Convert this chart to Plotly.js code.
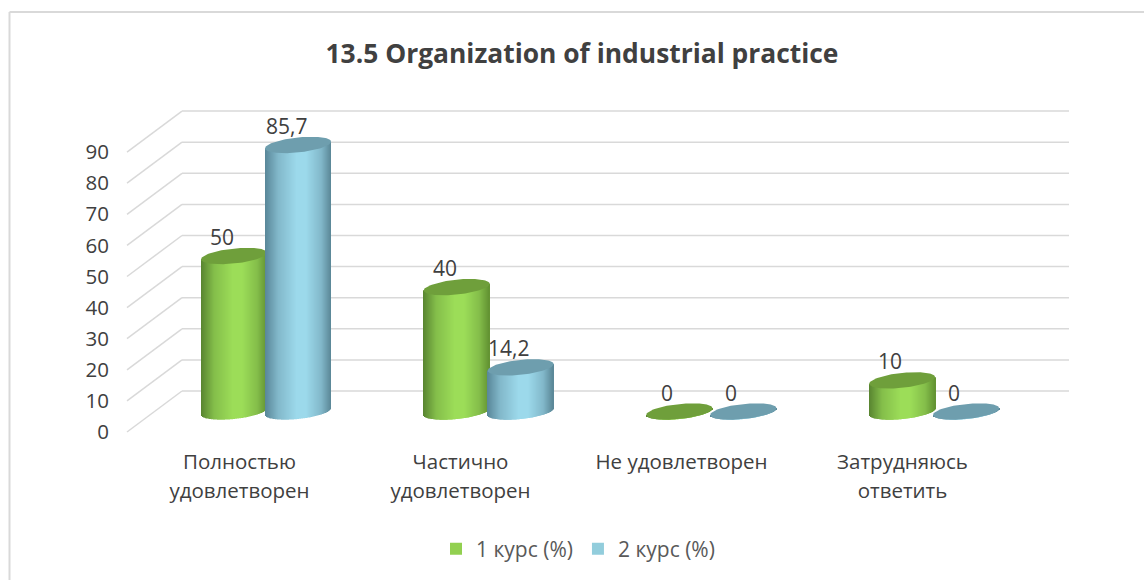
<!DOCTYPE html>
<html><head><meta charset="utf-8">
<script src="https://cdn.plot.ly/plotly-3.0.1.min.js"></script>
<style>html,body{margin:0;padding:0;background:#fff}#c{width:1144px;height:580px}</style></head>
<body><div id="c"></div>
<script>
var categories = ["Полностью<br>удовлетворен","Частично<br>удовлетворен","Не удовлетворен","Затрудняюсь<br>ответить"];
var course1 = [50,40,0,10];
var course2 = [85.7,14.2,0,0];
var course1Labels = ["50","40","0","10"];
var course2Labels = ["85,7","14,2","0","0"];
var yTicks = [0,10,20,30,40,50,60,70,80,90];
var seriesNames = ["1 курс (%)","2 курс (%)"];
var FONT = "Open Sans, sans-serif", TXT = "#404040", GRID = "#D9D9D9";

var L=127,R=1069,T=100,B=445;
var PXY=3.11, CATPX=222.7;
var y1Range=[(432-B)/PXY,(432-T)/PXY];
var y2Range=[(411.5-B)/PXY,(411.5-T)/PXY];
var x1Range=[(L-239.5)/221,(R-239.5)/221];
var x2Range=[(L-266)/CATPX,(R-266)/CATPX];

var RA=33, SHEAR=0.1, RB=7.5;
function hex(c){return 'rgb('+c.map(Math.round).join(',')+')';}
function shade(t,dark,mid,bright,right){
  var s=(t+1)/2, stops=[[0,dark],[0.2,mid],[0.48,bright],[0.62,bright],[0.85,mid],[1,right]];
  for(var i=1;i<stops.length;i++){ if(s<=stops[i][0]){
    var a=stops[i-1],b=stops[i],f=(s-a[0])/(b[0]-a[0]);
    return hex(a[1].map(function(v,k){return v+(b[1][k]-v)*f;}));}}
  return hex(right);
}
var palette=[
 {dark:[88,132,48],mid:[132,190,74],bright:[156,221,88],right:[98,146,50],cap:'#6F9F3B',sw:'#92D050'},
 {dark:[88,134,152],mid:[130,184,202],bright:[156,217,235],right:[90,134,150],cap:'#6E9EAE',sw:'#92CDDC'}
];
function cylinderBars(values,centerOffset,col,xa,ya){
  var xs=[],bases=[],ys=[],colors=[],w=[];
  var step=1;
  values.forEach(function(v,i){
    var cx=i+centerOffset/CATPX;
    for(var p=-RA;p<RA;p+=step){
      var m=p+step/2, t=m/RA;
      var arc=RB*Math.sqrt(Math.max(0,1-t*t));
      var low=(SHEAR*m-arc)/PXY;
      var top=v+SHEAR*m/PXY;
      xs.push(cx+m/CATPX); bases.push(low); ys.push(top-low);
      colors.push(shade(t,col.dark,col.mid,col.bright,col.right)); w.push(step/CATPX);
    }
  });
  return {type:'bar',x:xs,y:ys,base:bases,width:w,xaxis:xa,yaxis:ya,showlegend:false,hoverinfo:'skip',
    marker:{color:colors,line:{width:0}}};
}
function capTrace(v,i,centerOffset,col,xa,ya){
  var cx=i+centerOffset/CATPX,xs=[],ys=[];
  for(var k=0;k<=96;k++){var a=k/96*2*Math.PI,px=RA*Math.cos(a);
    xs.push(cx+px/CATPX); ys.push(v+(SHEAR*px+RB*Math.sin(a))/PXY);}
  return {type:'scatter',mode:'lines',x:xs,y:ys,fill:'toself',fillcolor:col.cap,line:{width:0,color:col.cap},
    xaxis:xa,yaxis:ya,showlegend:false,hoverinfo:'skip'};
}
var traces=[];
traces.push({type:'scatter',mode:'markers',x:[0,1,2,3],y:[null,null,null,null],xaxis:'x',yaxis:'y',showlegend:false,hoverinfo:'skip'});
traces.push(cylinderBars(course1,-32,palette[0],'x2','y2'));
course1.forEach(function(v,i){traces.push(capTrace(v,i,-32,palette[0],'x2','y2'));});
traces.push(cylinderBars(course2,32,palette[1],'x3','y3'));
course2.forEach(function(v,i){traces.push(capTrace(v,i,32,palette[1],'x3','y3'));});
seriesNames.forEach(function(n,k){
  traces.push({type:'bar',x:[null],y:[null],name:n,xaxis:'x3',yaxis:'y3',marker:{color:palette[k].sw}});
});

var shapes=[];
var dx=55/(R-L), backOff=(432-391)/PXY;
yTicks.forEach(function(v){
  shapes.push({type:'line',xref:'paper',yref:'y',x0:0,x1:dx,y0:v,y1:v+backOff,line:{color:GRID,width:1.5},layer:'below'});
  shapes.push({type:'line',xref:'paper',yref:'y',x0:dx,x1:1,y0:v+backOff,y1:v+backOff,line:{color:GRID,width:1.5},layer:'below'});
});
function px(x){return (x-L)/(R-L);} function py(y){return (B-y)/(B-T);}
shapes.push({type:'line',xref:'paper',yref:'paper',x0:px(9.5),x1:px(1144),y0:py(12),y1:py(12),line:{color:GRID,width:2},layer:'below'});
shapes.push({type:'line',xref:'paper',yref:'paper',x0:px(9.5),x1:px(9.5),y0:py(12),y1:py(580),line:{color:GRID,width:2},layer:'below'});

var ann=[];
function lab(v,i,text,off,xa,ya){ann.push({xref:xa,yref:ya,x:i+off/CATPX,y:v,text:text,showarrow:false,xshift:-12,yshift:19,
  font:{family:FONT,size:21,color:TXT}});}
course1.forEach(function(v,i){lab(v,i,course1Labels[i],-32,'x2','y2');});
course2.forEach(function(v,i){lab(v,i,course2Labels[i],32,'x3','y3');});

var hidden=function(r,extra){return Object.assign({range:r,visible:false,fixedrange:true},extra||{});};
var SPAN='<span style="font-size:20.5px">';
var layout={
  width:1144,height:580,paper_bgcolor:'#fff',plot_bgcolor:'rgba(0,0,0,0)',
  margin:{l:L,r:1144-R,t:T,b:580-B,pad:0},
  barmode:'overlay',bargap:0.01,
  title:{text:"<b>13.5 Organization of industrial practice</b>",x:582/1144,xref:'container',xanchor:'center',y:1-54/580,yref:'container',yanchor:'middle',
    font:{family:FONT,size:26.4,color:TXT}},
  xaxis:{range:x1Range,tickmode:'array',tickvals:[0,1,2,3],
    ticktext:categories.map(function(c){return SPAN+c.split('<br>').join('</span><br>'+SPAN)+'</span>';}),
    tickfont:{family:FONT,size:22,color:TXT},showgrid:false,zeroline:false,showline:false,ticks:'',ticklen:0,ticklabelstandoff:1,tickangle:0,automargin:false},
  yaxis:{range:y1Range,tickmode:'array',tickvals:yTicks,ticktext:yTicks.map(String),tickfont:{family:FONT,size:20.5,color:TXT},
    showgrid:false,zeroline:false,showline:false,ticks:'outside',ticklen:13,tickcolor:'rgba(0,0,0,0)',automargin:false},
  xaxis2:hidden(x2Range,{overlaying:'x',anchor:'y2'}),
  yaxis2:hidden(y2Range,{overlaying:'y',anchor:'x2'}),
  xaxis3:hidden(x2Range,{overlaying:'x',anchor:'y3'}),
  yaxis3:hidden(y2Range,{overlaying:'y',anchor:'x3'}),
  showlegend:true,
  legend:{orientation:'h',x:436/1144,xref:'container',xanchor:'left',y:1-549/580,yref:'container',yanchor:'middle',
    font:{family:FONT,size:21,color:'#595959'},itemwidth:30,traceorder:'normal',bgcolor:'rgba(0,0,0,0)'},
  shapes:shapes,annotations:ann
};
Plotly.newPlot('c',traces,layout,{displayModeBar:false,responsive:false});
</script></body></html>
